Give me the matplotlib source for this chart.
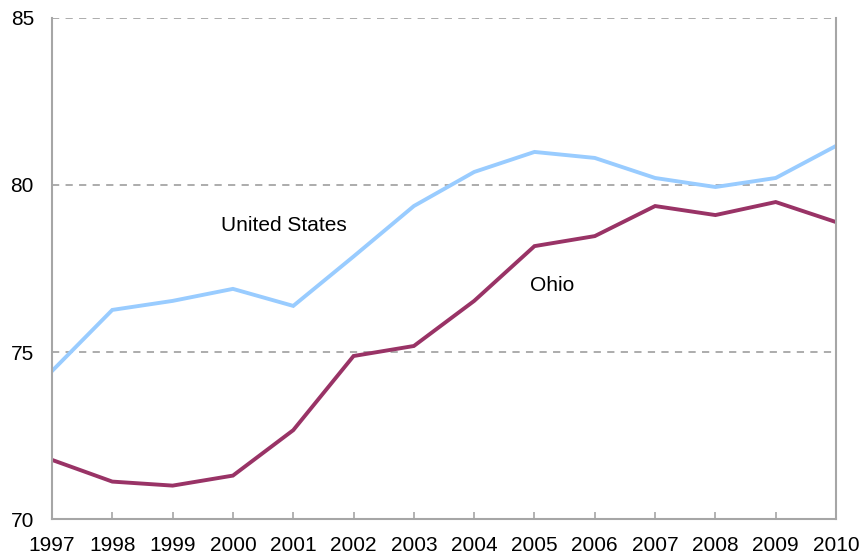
import numpy as np
import matplotlib.pyplot as plt

plt.rcParams['font.family'] = ['Liberation Sans', 'DejaVu Sans']

years = list(range(1997, 2011))
us = [74.43, 76.26, 76.53, 76.89, 76.38, 77.86, 79.37, 80.39, 80.99, 80.81, 80.21, 79.94, 80.21, 81.17]
ohio = [71.77, 71.12, 71.0, 71.3, 72.66, 74.88, 75.18, 76.53, 78.17, 78.47, 79.37, 79.1, 79.49, 78.89]

fig = plt.figure(figsize=(8.61, 5.57), dpi=100)
ax = fig.add_axes([0.0604, 0.0682, 0.9106, 0.8995])

ax.plot(years, us, color='#99CCFF', lw=2.8, solid_joinstyle='miter')
ax.plot(years, ohio, color='#993366', lw=2.8, solid_joinstyle='miter')

ax.set_xlim(1997, 2010)
ax.set_ylim(70, 85)
ax.set_xticks(years)
ax.set_yticks([70, 75, 80, 85])

for v in [75, 80, 85]:
    ax.axhline(v, color='#A6A6A6', lw=1.3, ls=(0, (4, 3.5)), zorder=0)

for s in ['left', 'bottom', 'right']:
    ax.spines[s].set_color('#A6A6A6')
    ax.spines[s].set_linewidth(1.5)
ax.spines['top'].set_visible(False)

ax.tick_params(axis='x', direction='in', length=5, color='#A6A6A6', width=1.2,
               labelsize=15, pad=12)
ax.tick_params(axis='y', length=0, labelsize=15, pad=13)

ax.text(2000.85, 78.8, 'United States', fontsize=15, ha='center', va='center')
ax.text(2005.3, 77.0, 'Ohio', fontsize=15, ha='center', va='center')

fig.savefig('out.png', dpi=100)
